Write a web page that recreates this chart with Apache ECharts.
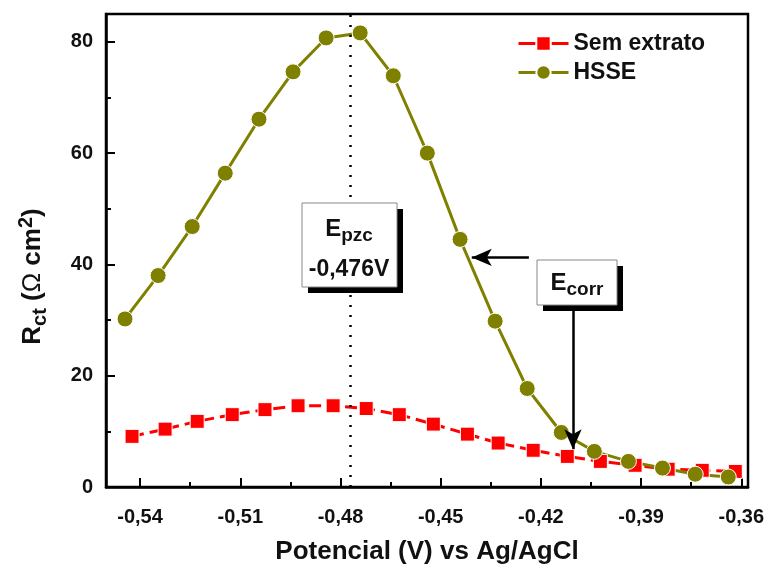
<!DOCTYPE html>
<html>
<head>
<meta charset="utf-8">
<script src="https://cdn.jsdelivr.net/npm/echarts@6/dist/echarts.min.js"></script>
<style>
    html, body { margin: 0; padding: 0; background: #fff; }
    #chart { width: 770px; height: 570px; }
</style>
</head>
<body>
<div id="chart"></div>
<script>
// valores
var sem_x = [-0.5424, -0.5325, -0.5229, -0.5124, -0.5026, -0.4927, -0.4822, -0.4723, -0.4624, -0.4522,
    -0.4420, -0.4328, -0.4223, -0.4121, -0.4022, -0.3918, -0.3819, -0.3717, -0.3618];
var sem_y = [9.1, 10.4, 11.8, 13.0, 13.9, 14.6, 14.6, 14.1, 13.0, 11.3,
    9.5, 7.9, 6.6, 5.5, 4.6, 3.9, 3.2, 3.0, 2.8];
var hsse_x = [-0.5445, -0.5346, -0.5244, -0.5145, -0.5044, -0.4942, -0.4843, -0.4741, -0.4642, -0.4540,
    -0.4442, -0.4337, -0.4241, -0.4139, -0.4040, -0.3938, -0.3836, -0.3738, -0.3639];
var hsse_y = [30.2, 38.0, 46.8, 56.4, 66.1, 74.6, 80.7, 81.6, 73.9, 60.0,
    44.5, 29.8, 17.7, 9.8, 6.4, 4.6, 3.4, 2.3, 1.8];

var x_ticks = [-0.54, -0.51, -0.48, -0.45, -0.42, -0.39, -0.36];
var x_minor = [-0.525, -0.495, -0.465, -0.435, -0.405, -0.375];
var y_ticks = [0, 20, 40, 60, 80];
var y_minor = [10, 30, 50, 70];

var e_pzc = -0.4770;

var font = 'Liberation Sans, Arial, sans-serif';

function pairs(xs, ys) {
    var out = [];
    xs.forEach(function (v, i) {
        out.push([v, ys[i]]);
    });
    return out;
}

var myChart = echarts.init(document.getElementById('chart'));
var option = {
    backgroundColor: '#fff',
    animation: false,
    grid: {
        left: 106,
        right: 22,
        top: 14,
        bottom: 80,
        show: true,
        borderColor: '#000',
        borderWidth: 2.5
    },
    legend: {
        orient: 'vertical',
        left: 512,
        top: 26,
        itemWidth: 50,
        itemHeight: 18,
        itemGap: 4,
        lineStyle: { type: 'solid', width: 3 },
        textStyle: {
            fontFamily: font,
            fontWeight: 'bold',
            fontSize: 23,
            lineHeight: 25,
            color: '#111'
        },
        data: ['Sem extrato', 'HSSE']
    },
    xAxis: [
        {
            type: 'value',
            min: -0.5502,
            max: -0.358,
            name: 'Potencial (V) vs Ag/AgCl',
            nameLocation: 'middle',
            nameGap: 52,
            nameTextStyle: {
                fontFamily: font,
                fontWeight: 'bold',
                fontSize: 26,
                color: '#111'
            },
            axisLine: { lineStyle: { color: '#000', width: 2.5 } },
            axisTick: {
                inside: true,
                length: 9,
                customValues: x_ticks,
                lineStyle: { color: '#000', width: 2 }
            },
            axisLabel: {
                customValues: x_ticks,
                margin: 20,
                fontFamily: font,
                fontWeight: 'bold',
                fontSize: 20,
                color: '#111',
                formatter: function (v) {
                    return v.toFixed(2).replace('.', ',');
                }
            },
            splitLine: { show: false }
        },
        {
            // só os ticks menores
            type: 'value',
            position: 'bottom',
            min: -0.5502,
            max: -0.358,
            axisLine: { show: false },
            axisTick: {
                inside: true,
                length: 5,
                customValues: x_minor,
                lineStyle: { color: '#000', width: 2 }
            },
            axisLabel: { show: false },
            splitLine: { show: false }
        }
    ],
    yAxis: [
        {
            type: 'value',
            min: 0,
            max: 85,
            name: '{r|R}{s|ct}{n| (}{o|Ω}{n| cm}{p|2}{n|)}',
            nameLocation: 'middle',
            nameGap: 56,
            nameTextStyle: {
                padding: [0, 52, 0, 0],
                rich: {
                    r: { fontFamily: font, fontWeight: 'bold', fontSize: 26, lineHeight: 34, color: '#111' },
                    n: { fontFamily: font, fontWeight: 'bold', fontSize: 26, lineHeight: 34, color: '#111' },
                    o: { fontFamily: font, fontWeight: 'normal', fontSize: 26, lineHeight: 34, color: '#111' },
                    s: { fontFamily: font, fontWeight: 'bold', fontSize: 20, verticalAlign: 'bottom', color: '#111' },
                    p: { fontFamily: font, fontWeight: 'bold', fontSize: 20, verticalAlign: 'top', color: '#111' }
                }
            },
            axisLine: { lineStyle: { color: '#000', width: 2.5 } },
            axisTick: {
                inside: true,
                length: 9,
                customValues: y_ticks,
                lineStyle: { color: '#000', width: 2 }
            },
            axisLabel: {
                customValues: y_ticks,
                margin: 13,
                fontFamily: font,
                fontWeight: 'bold',
                fontSize: 20,
                color: '#111'
            },
            splitLine: { show: false }
        },
        {
            type: 'value',
            position: 'left',
            min: 0,
            max: 85,
            axisLine: { show: false },
            axisTick: {
                inside: true,
                length: 5,
                customValues: y_minor,
                lineStyle: { color: '#000', width: 2 }
            },
            axisLabel: { show: false },
            splitLine: { show: false }
        }
    ],
    series: [
        {
            name: 'Sem extrato',
            type: 'line',
            data: pairs(sem_x, sem_y),
            symbol: 'rect',
            symbolSize: 14,
            color: '#ff0000',
            lineStyle: { color: '#ff0000', width: 3, type: [12, 6] },
            itemStyle: { color: '#ff0000', borderColor: '#fff', borderWidth: 1 },
            markLine: {
                silent: true,
                precision: 4,
                symbol: 'none',
                label: { show: false },
                lineStyle: { color: '#000', width: 2.5, type: [2, 8] },
                data: [{ xAxis: e_pzc }]
            }
        },
        {
            name: 'HSSE',
            type: 'line',
            data: pairs(hsse_x, hsse_y),
            symbol: 'circle',
            symbolSize: 16,
            color: '#808000',
            lineStyle: { color: '#808000', width: 3 },
            itemStyle: { color: '#808000', borderColor: '#fff', borderWidth: 1 },
            markLine: {
                silent: true,
                precision: 4,
                symbol: ['none', 'arrow'],
                symbolSize: [13, 20],
                label: { show: false },
                lineStyle: { color: '#000', width: 2.5, type: 'solid' },
                data: [
                    [{ coord: [-0.4236, 41.25] }, { coord: [-0.4407, 41.25] }],
                    [{ coord: [-0.4104, 33] }, { coord: [-0.4104, 6.8] }]
                ]
            }
        }
    ],
    graphic: [
        { type: 'rect', z: 100, shape: { x: 308, y: 209, width: 95, height: 84 }, style: { fill: '#000' } },
        { type: 'rect', z: 101, shape: { x: 302, y: 203, width: 95, height: 84 }, style: { fill: '#fff', stroke: '#888', lineWidth: 1 } },
        {
            type: 'text', z: 102, x: 349, y: 229,
            style: {
                text: '{e|E}{s|pzc}',
                align: 'center',
                verticalAlign: 'middle',
                rich: {
                    e: { fontFamily: font, fontWeight: 'bold', fontSize: 24, lineHeight: 32, fill: '#111' },
                    s: { fontFamily: font, fontWeight: 'bold', fontSize: 19, verticalAlign: 'bottom', fill: '#111' }
                }
            }
        },
        {
            type: 'text', z: 102, x: 349, y: 270,
            style: {
                text: '-0,476V',
                align: 'center',
                verticalAlign: 'middle',
                fontFamily: font,
                fontWeight: 'bold',
                fontSize: 23,
                fill: '#111'
            }
        },
        { type: 'rect', z: 100, shape: { x: 543, y: 266, width: 80, height: 45 }, style: { fill: '#000' } },
        { type: 'rect', z: 101, shape: { x: 537, y: 260, width: 80, height: 45 }, style: { fill: '#fff', stroke: '#888', lineWidth: 1 } },
        {
            type: 'text', z: 102, x: 577, y: 283,
            style: {
                text: '{e|E}{s|corr}',
                align: 'center',
                verticalAlign: 'middle',
                rich: {
                    e: { fontFamily: font, fontWeight: 'bold', fontSize: 24, lineHeight: 32, fill: '#111' },
                    s: { fontFamily: font, fontWeight: 'bold', fontSize: 19, verticalAlign: 'bottom', fill: '#111' }
                }
            }
        }
    ]
};
myChart.setOption(option);
</script>
</body>
</html>
